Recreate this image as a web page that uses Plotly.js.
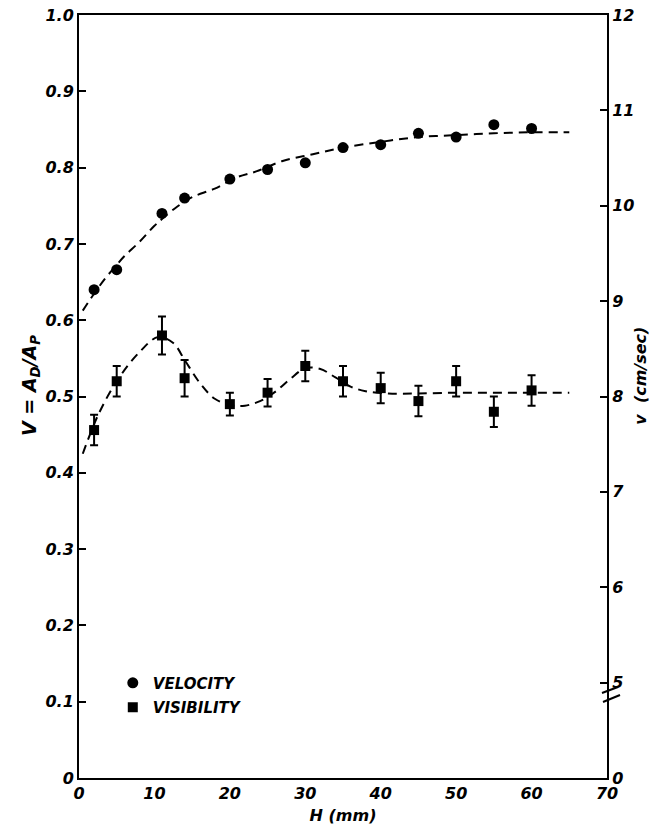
<!DOCTYPE html>
<html>
<head>
<meta charset="utf-8">
<script src="https://cdn.plot.ly/plotly-3.0.1.min.js"></script>
<style>html,body{margin:0;padding:0;background:#fff;}#chart{width:653px;height:839px;}</style>
</head>
<body>
<div id="chart"></div>
<script>
// Depth H (mm) of measured points
const H = [2, 5, 11, 14, 20, 25, 30, 35, 40, 45, 50, 55, 60];
// Velocity v (cm/sec), right axis
const velocity = [9.12, 9.33, 9.92, 10.08, 10.28, 10.38, 10.45, 10.61, 10.64, 10.76, 10.72, 10.85, 10.81];
// Visibility V = A_D/A_P, left axis, with error bars
const visibility = [0.456, 0.52, 0.58, 0.524, 0.49, 0.505, 0.54, 0.52, 0.511, 0.494, 0.52, 0.48, 0.508];
const visErr = [0.02, 0.02, 0.025, 0.024, 0.015, 0.018, 0.02, 0.02, 0.02, 0.02, 0.02, 0.02, 0.02];

// Dashed fitted curves
const velCurveH = [0.5, 1.5, 3.3, 5, 6, 8, 10, 11, 13, 15, 18, 21, 23.5, 27, 31, 35, 40, 45, 50, 55, 60, 65];
const velCurveV = [8.90, 9.02, 9.22, 9.38, 9.47, 9.62, 9.79, 9.86, 9.99, 10.09, 10.18, 10.30, 10.36, 10.47, 10.54, 10.61, 10.67, 10.72, 10.74, 10.76, 10.77, 10.77];
const visCurveH = [0.5, 2.5, 5, 8, 10.5, 12.5, 14, 16, 18, 20, 22, 24, 26, 28, 30, 32, 34, 36, 38, 41, 45, 50, 55, 60, 65];
const visCurveV = [0.425, 0.475, 0.52, 0.558, 0.578, 0.57, 0.548, 0.518, 0.497, 0.489, 0.488, 0.494, 0.506, 0.523, 0.537, 0.536, 0.525, 0.513, 0.507, 0.504, 0.504, 0.505, 0.505, 0.505, 0.505];

// Tick labels
const xTicks = [0, 10, 20, 30, 40, 50, 60, 70];
const leftTickVals = [0, 0.1, 0.2, 0.3, 0.4, 0.5, 0.6, 0.7, 0.8, 0.9, 1.0];
const leftTickText = ['0', '0.1', '0.2', '0.3', '0.4', '0.5', '0.6', '0.7', '0.8', '0.9', '1.0'];
const rightTickVals = [4, 5, 6, 7, 8, 9, 10, 11, 12];
const rightTickText = ['0', '5', '6', '7', '8', '9', '10', '11', '12'];

const F = 'DejaVu Sans, sans-serif';
const tickFont = {family: F, size: 16, color: '#000', style: 'italic', weight: 'bold'};

const traces = [
  {x: velCurveH, y: velCurveV, yaxis: 'y2', mode: 'lines', line: {color: '#000', width: 2, dash: '9px,6px', shape: 'spline'}, showlegend: false, hoverinfo: 'skip'},
  {x: visCurveH, y: visCurveV, mode: 'lines', line: {color: '#000', width: 2, dash: '9px,6px', shape: 'spline'}, showlegend: false, hoverinfo: 'skip'},
  {x: H, y: velocity, yaxis: 'y2', mode: 'markers', name: 'VELOCITY', legendgroup: 'a',
   marker: {symbol: 'circle', size: 11, color: '#000'}},
  {x: H, y: visibility, mode: 'markers', name: 'VISIBILITY', legendgroup: 'b',
   marker: {symbol: 'square', size: 10, color: '#000'},
   error_y: {type: 'data', array: visErr, color: '#000', thickness: 2, width: 4}}
];

const layout = {
  width: 653, height: 839,
  margin: {l: 79, r: 46, t: 15, b: 61},
  paper_bgcolor: '#fff', plot_bgcolor: '#fff',
  showlegend: true,
  legend: {x: 0.064, y: 0.146, xanchor: 'left', yanchor: 'top', bgcolor: 'rgba(0,0,0,0)',
           font: {family: F, size: 15, color: '#000', style: 'italic', weight: 'bold'}, tracegroupgap: 2, traceorder: 'grouped'},
  xaxis: {range: [0, 70], tickvals: xTicks, ticks: '', showgrid: false, zeroline: false,
          showline: true, linecolor: '#000', linewidth: 2, mirror: true,
          tickfont: tickFont,
          title: {text: 'H (mm)', font: {family: F, size: 16, color: '#000', style: 'italic', weight: 'bold'}, standoff: 8}},
  yaxis: {range: [0, 1], tickvals: leftTickVals, ticktext: leftTickText, ticks: 'inside', ticklen: 7, tickwidth: 2,
          tickcolor: '#000', showgrid: false, zeroline: false, showline: true, linecolor: '#000', linewidth: 2,
          tickfont: tickFont},
  yaxis2: {range: [4, 12], overlaying: 'y', side: 'right', tickvals: rightTickVals, ticktext: rightTickText,
           ticks: 'inside', ticklen: 7, tickwidth: 2, tickcolor: '#000', showgrid: false, zeroline: false,
           showline: true, linecolor: '#000', linewidth: 2, tickfont: tickFont},
  annotations: [
    {text: 'V = A<sub>D</sub>/A<sub>P</sub>', xref: 'paper', yref: 'paper', x: -0.093, y: 0.515,
     xanchor: 'center', yanchor: 'middle', textangle: -90, showarrow: false,
     font: {family: F, size: 19, color: '#000', style: 'italic', weight: 'bold'}},
    {text: 'v  (cm/sec)', xref: 'paper', yref: 'paper', x: 1.064, y: 0.527,
     xanchor: 'center', yanchor: 'middle', textangle: -90, showarrow: false,
     font: {family: F, size: 16, color: '#000', style: 'italic', weight: 'bold'}}
  ],
  shapes: [
    {type: 'line', xref: 'paper', yref: 'paper', x0: 0.9905, y0: 0.1114, x1: 1.0208, y1: 0.1193, line: {color: '#000', width: 2}},
    {type: 'line', xref: 'paper', yref: 'paper', x0: 0.9924, y0: 0.0996, x1: 1.0246, y1: 0.1088, line: {color: '#000', width: 2}}
  ]
};

Plotly.newPlot('chart', traces, layout, {displayModeBar: false, staticPlot: true});
</script>
</body>
</html>
